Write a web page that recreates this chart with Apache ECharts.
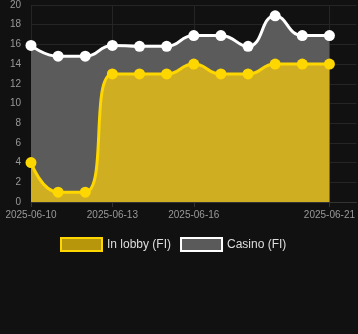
<!DOCTYPE html>
<html><head><meta charset="utf-8">
<script src="https://cdn.jsdelivr.net/npm/echarts@6/dist/echarts.min.js"></script>
<style>html,body{margin:0;padding:0;background:#111;}#c{width:358px;height:334px;}</style>
</head><body><div id="c"></div>
<script>
var dates = ['2025-06-10','2025-06-11','2025-06-12','2025-06-13','2025-06-14','2025-06-15','2025-06-16','2025-06-17','2025-06-18','2025-06-19','2025-06-20','2025-06-21'];
var lobbyValues = [4, 1, 1, 13, 13, 13, 14, 13, 13, 14, 14, 14];
var casinoValues = [15.9, 14.8, 14.8, 15.9, 15.8, 15.8, 16.9, 16.9, 15.8, 18.9, 16.9, 16.9];
var xLabelDates = ['2025-06-10','2025-06-13','2025-06-16','2025-06-21'];
var xMin = '2025-06-10', xMax = '2025-06-22';
var yTicks = [0, 2, 4, 6, 8, 10, 12, 14, 16, 18, 20];

function ts(d){ return Date.UTC(+d.slice(0,4), +d.slice(5,7) - 1, +d.slice(8,10)); }
function pad(n){ return (n < 10 ? '0' : '') + n; }
var chart = echarts.init(document.getElementById('c'));
chart.setOption({
  backgroundColor: '#111111',
  animation: false,
  grid: { left: 31, right: 0, top: 5, bottom: 132 },
  legend: {
    top: 232, left: 55,
    icon: 'rect', itemWidth: 41, itemHeight: 13, itemGap: 9,
    textStyle: { color: '#dddddd', fontSize: 12, fontFamily: 'Liberation Sans, Arial, sans-serif' },
    data: [
      { name: 'In lobby (FI)', itemStyle: { color: '#b8960c', borderColor: '#FFD700', borderWidth: 2 } },
      { name: 'Casino (FI)', itemStyle: { color: '#5a5a5a', borderColor: '#ffffff', borderWidth: 2 } }
    ]
  },
  xAxis: {
    type: 'value', min: ts(xMin), max: ts(xMax),
    axisLine: { show: true, lineStyle: { color: '#333' } },
    axisTick: { show: true, customValues: xLabelDates.map(ts), lineStyle: { color: '#333' } },
    axisLabel: {
      customValues: xLabelDates.map(ts), color: '#999', fontSize: 10,
      fontFamily: 'Liberation Sans, Arial, sans-serif', hideOverlap: false,
      formatter: function (v) { var d = new Date(v); return d.getUTCFullYear() + '-' + pad(d.getUTCMonth() + 1) + '-' + pad(d.getUTCDate()); }
    },
    splitLine: { show: true, lineStyle: { color: '#252525' } }
  },
  yAxis: {
    type: 'value', min: yTicks[0], max: yTicks[yTicks.length - 1], interval: 2,
    axisLabel: { color: '#999', fontSize: 10, fontFamily: 'Liberation Sans, Arial, sans-serif', margin: 10 },
    splitLine: { lineStyle: { color: '#252525' } },
    axisLine: { show: false }, axisTick: { show: false }
  },
  series: [
    {
      name: 'Casino (FI)', type: 'line', smooth: true, z: 2,
      data: dates.map(function (d, i) { return [ts(d), casinoValues[i]]; }),
      symbol: 'circle', symbolSize: 11,
      lineStyle: { color: '#ffffff', width: 3 },
      itemStyle: { color: '#ffffff' },
      areaStyle: { color: '#5b5b5b', opacity: 1 }
    },
    {
      name: 'In lobby (FI)', type: 'line', smooth: true, z: 3,
      data: dates.map(function (d, i) { return [ts(d), lobbyValues[i]]; }),
      symbol: 'circle', symbolSize: 11,
      lineStyle: { color: '#FFD700', width: 3 },
      itemStyle: { color: '#FFD700' },
      areaStyle: { color: '#cfae22', opacity: 1 }
    }
  ]
});
</script></body></html>
